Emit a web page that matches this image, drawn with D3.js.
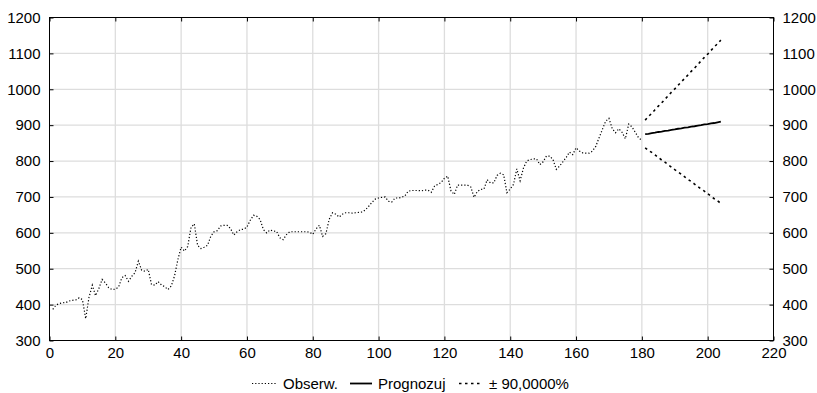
<!DOCTYPE html>
<html>
<head>
<meta charset="utf-8">
<script src="https://cdnjs.cloudflare.com/ajax/libs/d3/7.8.5/d3.min.js"></script>
<style>
    body { margin: 0; background: #fff; }
    svg { display: block; font-family: "Liberation Sans", Arial, sans-serif; }
</style>
</head>
<body>
<svg id="chart" width="817" height="393"></svg>
<script>
// observed values, t = 1 .. 180
const observed = [
    387, 399, 403, 405, 406, 410, 412, 413, 419, 414,
    361, 420, 454, 425, 445, 470, 460, 447, 442, 443,
    449, 475, 481, 465, 479, 489, 521, 496, 493, 498,
    456, 454, 464, 455, 450, 442, 452, 480, 525, 560,
    549, 562, 615, 625, 565, 556, 560, 565, 590, 603,
    606, 619, 621, 621, 612, 594, 603, 609, 610, 616,
    635, 649, 646, 637, 609, 600, 608, 605, 604, 586,
    581, 595, 603, 603, 603, 603, 603, 603, 602, 596,
    611, 621, 590, 598, 638, 656, 652, 644, 652, 656,
    656, 655, 656, 657, 658, 664, 674, 685, 694, 697,
    699, 700, 688, 686, 697, 697, 699, 703, 716, 718,
    718, 718, 717, 719, 719, 713, 730, 735, 740, 752,
    758, 717, 707, 733, 733, 733, 733, 728, 699, 715,
    721, 722, 748, 739, 739, 760, 766, 762, 712, 722,
    735, 778, 745, 780, 800, 804, 806, 806, 790, 798,
    814, 814, 804, 777, 786, 798, 810, 825, 818, 837,
    828, 823, 822, 822, 828, 841, 865, 888, 911, 919,
    890, 879, 890, 880, 862, 903, 895, 880, 865, 858
];
const observedStart = 1;

// forecast and 90% limits, t = 181 .. 204
const forecast = [875, 876, 878, 879, 881, 882, 884, 885, 887, 888, 890, 891,
                  893, 894, 896, 897, 899, 900, 902, 903, 905, 906, 908, 910];
const upper = [914, 924, 933, 943, 953, 962, 972, 982, 992, 1001, 1011, 1021,
               1030, 1040, 1050, 1059, 1069, 1079, 1089, 1098, 1108, 1118, 1127, 1137];
const lower = [837, 830, 824, 817, 810, 803, 797, 790, 783, 776, 770, 763,
               756, 749, 743, 736, 729, 722, 716, 709, 702, 695, 689, 682];
const forecastStart = 181;

const xTicks = [0, 20, 40, 60, 80, 100, 120, 140, 160, 180, 200, 220];
const yTicks = [300, 400, 500, 600, 700, 800, 900, 1000, 1100, 1200];
const legendLabels = ['Obserw.', 'Prognozuj', '± 90,0000%'];

const svg = d3.select('#chart');
const width = +svg.attr('width');
const height = +svg.attr('height');
const margin = {top: 17.5, right: 43.5, bottom: 52.5, left: 49.5};
const innerWidth = width - margin.left - margin.right;
const innerHeight = height - margin.top - margin.bottom;

const x = d3.scaleLinear().domain([0, 220]).range([0, innerWidth]);
const y = d3.scaleLinear().domain([300, 1200]).range([innerHeight, 0]);
const fmt = d3.format('d');

const chart = svg.append('g').attr('transform', `translate(${margin.left},${margin.top})`);

// gridlines
chart.append('g').selectAll('line.vgrid').data(xTicks.slice(1, -1)).join('line')
    .attr('x1', d => x(d)).attr('x2', d => x(d))
    .attr('y1', 0).attr('y2', innerHeight)
    .attr('stroke', '#dddddd').attr('stroke-width', 1.3);
chart.append('g').selectAll('line.hgrid').data(yTicks.slice(1, -1)).join('line')
    .attr('x1', 0).attr('x2', innerWidth)
    .attr('y1', d => y(d)).attr('y2', d => y(d))
    .attr('stroke', '#dddddd').attr('stroke-width', 1.3);

// axes with inward ticks
const styleAxis = g => {
    g.attr('font-family', null);
    g.select('.domain').remove();
    g.selectAll('.tick line').attr('stroke', '#000');
    g.selectAll('.tick text').attr('fill', '#000').attr('font-size', 15);
};
chart.append('g').attr('transform', `translate(0,${innerHeight})`)
    .call(d3.axisBottom(x).tickValues(xTicks).tickFormat(fmt).tickSize(-4).tickSizeOuter(0).tickPadding(7))
    .call(styleAxis);
chart.append('g')
    .call(d3.axisTop(x).tickValues(xTicks).tickSize(-4).tickSizeOuter(0).tickFormat(''))
    .call(styleAxis);
chart.append('g')
    .call(d3.axisLeft(y).tickValues(yTicks).tickFormat(fmt).tickSize(-4).tickSizeOuter(0).tickPadding(9))
    .call(styleAxis);
chart.append('g').attr('transform', `translate(${innerWidth},0)`)
    .call(d3.axisRight(y).tickValues(yTicks).tickFormat(fmt).tickSize(-4).tickSizeOuter(0).tickPadding(9))
    .call(styleAxis);

// frame
chart.append('rect')
    .attr('width', innerWidth).attr('height', innerHeight)
    .attr('fill', 'none').attr('stroke', '#000').attr('stroke-width', 1);

// series
const line = d3.line().x(d => x(d.t)).y(d => y(d.v));
const toPoints = (arr, start) => arr.map((v, i) => ({t: start + i, v: v}));

const styles = [
    {dash: '1.2,2', width: 1.2},
    {dash: null, width: 1.8},
    {dash: '2.5,3.5', width: 1.6}
];

chart.append('path').datum(toPoints(observed, observedStart))
    .attr('d', line).attr('fill', 'none').attr('stroke', '#000')
    .attr('stroke-width', styles[0].width).attr('stroke-dasharray', styles[0].dash);
chart.append('path').datum(toPoints(forecast, forecastStart))
    .attr('d', line).attr('fill', 'none').attr('stroke', '#000')
    .attr('stroke-width', styles[1].width);
[upper, lower].forEach(arr => {
    chart.append('path').datum(toPoints(arr, forecastStart))
        .attr('d', line).attr('fill', 'none').attr('stroke', '#000')
        .attr('stroke-width', styles[2].width).attr('stroke-dasharray', styles[2].dash);
});

// legend
const legendX = [252, 350, 459]; // sample start for each entry
const sampleLen = [25, 22, 24];
const legendY = 383.5;
const legend = svg.append('g');
legendLabels.forEach((label, i) => {
    legend.append('line')
        .attr('x1', legendX[i]).attr('x2', legendX[i] + sampleLen[i])
        .attr('y1', legendY).attr('y2', legendY)
        .attr('stroke', '#000').attr('stroke-width', styles[i].width)
        .attr('stroke-dasharray', styles[i].dash);
    legend.append('text')
        .attr('x', legendX[i] + sampleLen[i] + 6).attr('y', legendY + 5.5)
        .attr('font-size', 15).attr('fill', '#000')
        .text(label);
});
</script>
</body>
</html>
